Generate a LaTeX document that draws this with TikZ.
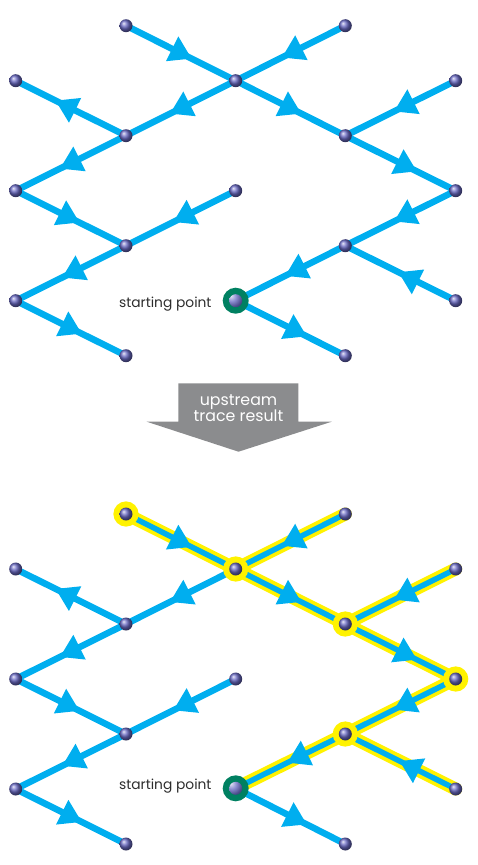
\documentclass[tikz,border=0pt]{standalone}
\usepackage{fontspec}
\newfontfamily\lblfont{Poppins}
\usetikzlibrary{arrows.meta,decorations.markings}
\pgfdeclarelayer{hllayer}
\pgfdeclarelayer{edgelayer}
\pgfsetlayers{hllayer,edgelayer,main}
\definecolor{flowblue}{RGB}{0,174,239}
\definecolor{hlyellow}{RGB}{255,242,0}
\definecolor{nodepurple}{RGB}{105,105,195}
\definecolor{bannergray}{RGB}{139,140,142}
\definecolor{labelgray}{RGB}{45,45,45}
\pgfdeclareradialshading{startring}{\pgfpoint{0bp}{0bp}}{rgb(0bp)=(0,0.5,0.38); rgb(25bp)=(0,0.5,0.38); rgb(31bp)=(0.08,0.62,0.42); rgb(39bp)=(0.25,0.72,0.4); rgb(45bp)=(0.5,0.8,0.38); rgb(50bp)=(0.76,0.88,0.45)}
\tikzset{
  junction/.style={circle, inner sep=0pt, minimum size=13pt, shade, shading=ball, ball color=nodepurple},
  hljunction/.style={junction, preaction={draw=hlyellow, line width=12pt}},
  startnode/.style={circle, inner sep=0pt, minimum size=26pt, shade, shading=startring,
    path picture={\shade[ball color=nodepurple] (path picture bounding box.center) circle[radius=6.5pt];}},
  flow/.style={draw=flowblue, line width=6.5pt, postaction={decorate},
    decoration={markings, mark=at position #1 with {\arrow{Triangle[length=22pt,width=26pt]}}}},
  flow/.default=0.6,
  hlflow/.style={flow=#1, line width=5.5pt},
  hlflow/.default=0.6,
  glow/.style={draw=hlyellow, line width=13pt, line cap=round},
  lbl/.style={anchor=base east, inner sep=0pt, text=labelgray, font=\lblfont\fontsize{13.8}{15}\selectfont},
  bannertext/.style={anchor=base, inner sep=0pt, text=white, font=\lblfont\fontsize{15.8}{17}\selectfont},
}
\begin{document}
\begin{tikzpicture}[x=1pt,y=-1pt]
\useasboundingbox (0,0) rectangle (478,865);
% ---------- top network ----------
\node[junction] (t1) at (126,25.7) {};
\node[junction] (t2) at (345.3,25.7) {};
\node[junction] (t3) at (15.7,80.7) {};
\node[junction] (t4) at (235.7,80.7) {};
\node[junction] (t5) at (455.7,80.7) {};
\node[junction] (t6) at (126,135.7) {};
\node[junction] (t7) at (345.3,135.7) {};
\node[junction] (t8) at (15.7,190.7) {};
\node[junction] (t9) at (235.7,190.7) {};
\node[junction] (t10) at (455.7,190.7) {};
\node[junction] (t11) at (126,245.7) {};
\node[junction] (t12) at (345.3,245.7) {};
\node[junction] (t13) at (15.7,300.7) {};
\node[startnode] (t14) at (235.7,300.7) {};
\node[junction] (t15) at (455.7,300.7) {};
\node[junction] (t16) at (126,355.7) {};
\node[junction] (t17) at (345.3,355.7) {};
\node[lbl] (tlabel) at (211.7,307.7) {starting point};
\begin{pgfonlayer}{edgelayer}
\draw[flow] (t1.center) -- (t4.center);
\draw[flow=0.58] (t2.center) -- (t4.center);
\draw[flow=0.64] (t6.center) -- (t3.center);
\draw[flow] (t4.center) -- (t6.center);
\draw[flow] (t6.center) -- (t8.center);
\draw[flow] (t4.center) -- (t7.center);
\draw[flow=0.56] (t5.center) -- (t7.center);
\draw[flow=0.65] (t7.center) -- (t10.center);
\draw[flow=0.58] (t8.center) -- (t11.center);
\draw[flow=0.57] (t9.center) -- (t11.center);
\draw[flow=0.58] (t11.center) -- (t13.center);
\draw[flow] (t13.center) -- (t16.center);
\draw[flow=0.56] (t10.center) -- (t12.center);
\draw[flow=0.55] (t12.center) -- (t14.center);
\draw[flow=0.52] (t15.center) -- (t12.center);
\draw[flow=0.65] (t14.center) -- (t17.center);
\end{pgfonlayer}
% ---------- banner ----------
\fill[bannergray] (178.3,383.3) -- (298.3,383.3) -- (298.3,421.7) -- (331.7,421.7)
  -- (238.5,451.7) -- (146.7,421.7) -- (178.3,421.7) -- cycle;
\node[bannertext] (ban1) at (238.5,405.7) {upstream};
\node[bannertext] (ban2) at (238.5,421.2) {trace result};
% ---------- bottom network ----------
\node[hljunction] (b1) at (126,514) {};
\node[junction] (b2) at (345.3,514) {};
\node[junction] (b3) at (15.7,569) {};
\node[hljunction] (b4) at (235.7,569) {};
\node[junction] (b5) at (455.7,569) {};
\node[junction] (b6) at (126,624) {};
\node[hljunction] (b7) at (345.3,624) {};
\node[junction] (b8) at (15.7,679) {};
\node[junction] (b9) at (235.7,679) {};
\node[hljunction] (b10) at (455.7,679) {};
\node[junction] (b11) at (126,734) {};
\node[hljunction] (b12) at (345.3,734) {};
\node[junction] (b13) at (15.7,789) {};
\node[startnode] (b14) at (235.7,788.3) {};
\node[junction] (b15) at (455.7,789) {};
\node[junction] (b16) at (126,844) {};
\node[junction] (b17) at (345.3,844) {};
\node[lbl] (blabel) at (211.7,789.3) {starting point};
\begin{pgfonlayer}{hllayer}
\draw[glow] (b1.center) -- (b4.center);
\draw[glow] (b2.center) -- (b4.center);
\draw[glow] (b4.center) -- (b7.center);
\draw[glow] (b5.center) -- (b7.center);
\draw[glow] (b7.center) -- (b10.center);
\draw[glow] (b10.center) -- (b12.center);
\draw[glow] (b15.center) -- (b12.center);
\draw[glow] (b12.center) -- (b14.center);
\end{pgfonlayer}
\begin{pgfonlayer}{edgelayer}
\draw[hlflow] (b1.center) -- (b4.center);
\draw[hlflow=0.58] (b2.center) -- (b4.center);
\draw[flow=0.64] (b6.center) -- (b3.center);
\draw[flow] (b4.center) -- (b6.center);
\draw[flow] (b6.center) -- (b8.center);
\draw[hlflow] (b4.center) -- (b7.center);
\draw[hlflow=0.56] (b5.center) -- (b7.center);
\draw[hlflow=0.65] (b7.center) -- (b10.center);
\draw[flow=0.58] (b8.center) -- (b11.center);
\draw[flow=0.57] (b9.center) -- (b11.center);
\draw[flow=0.58] (b11.center) -- (b13.center);
\draw[flow] (b13.center) -- (b16.center);
\draw[hlflow=0.56] (b10.center) -- (b12.center);
\draw[hlflow=0.53] (b12.center) -- (b14.center);
\draw[hlflow=0.51] (b15.center) -- (b12.center);
\draw[flow=0.65] (b14.center) -- (b17.center);
\end{pgfonlayer}
\end{tikzpicture}
\end{document}
